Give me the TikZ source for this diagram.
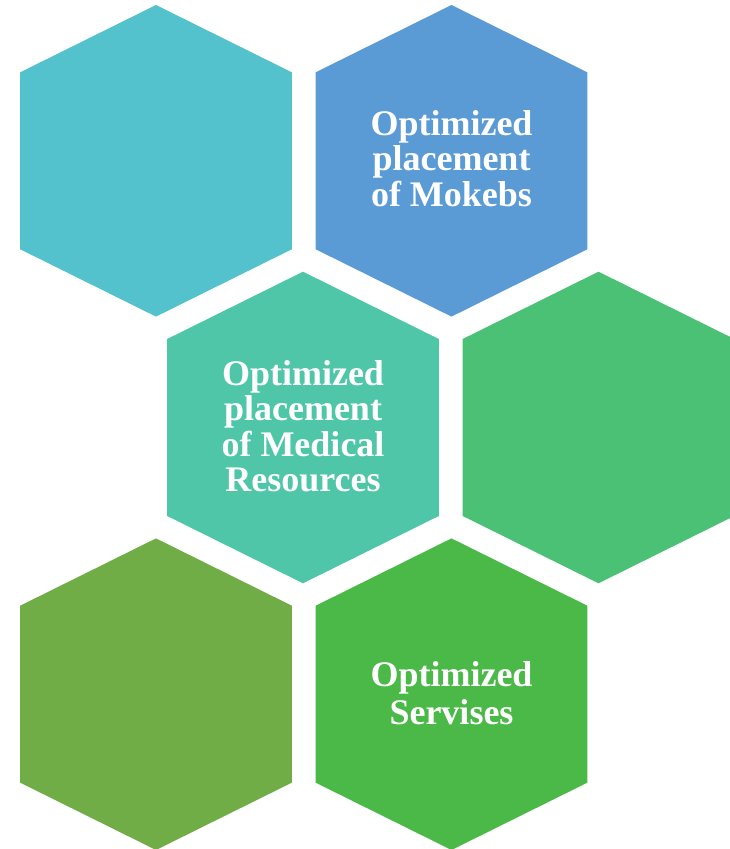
\documentclass[tikz,border=0pt]{standalone}
\usepackage{fontspec}
\setmainfont{Liberation Serif}
\definecolor{cA}{HTML}{53C2CD}
\definecolor{cB}{HTML}{5A9BD5}
\definecolor{cC}{HTML}{50C6A8}
\definecolor{cD}{HTML}{4BC176}
\definecolor{cE}{HTML}{70AD47}
\definecolor{cF}{HTML}{4BB948}
\newcommand{\hexat}[3]{%
  \fill[#3] (#1,#2) +(0,155.8) -- +(135.8,88.5) -- +(135.8,-88.5) -- +(0,-155.8) -- +(-135.8,-88.5) -- +(-135.8,88.5) -- cycle;}
\begin{document}
\begin{tikzpicture}[x=1pt,y=1pt,
  lbl/.style={text=white,font=\fontsize{36}{35.5}\selectfont\bfseries,align=center,inner sep=0pt}]
\useasboundingbox (0,0) rectangle (730,849);
\clip (0,0) rectangle (730,849);
\hexat{156}{688.2}{cA}
\hexat{451.5}{688.2}{cB}
\hexat{303}{421.5}{cC}
\hexat{598.5}{421.5}{cD}
\hexat{156}{154.8}{cE}
\hexat{451.5}{154.8}{cF}
\node[lbl] (tB) at (451.5,690.5) {Optimized\\placement\\of Mokebs};
\node[lbl] (tC) at (303,423) {Optimized\\placement\\of Medical\\Resources};
\node[lbl] (tF) at (451.5,156) {Optimized\\[2pt]Servises};
\end{tikzpicture}
\end{document}
